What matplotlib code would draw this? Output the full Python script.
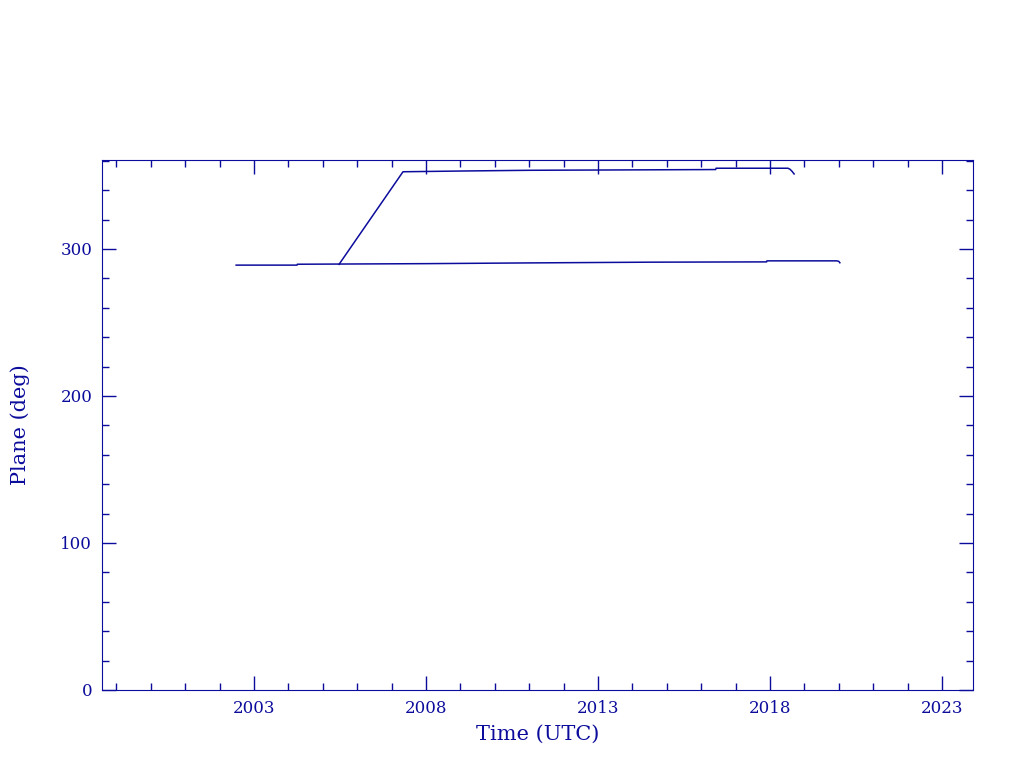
"""
Orbital plane vs time.
"""
import matplotlib
matplotlib.use('Agg')
import matplotlib.pyplot as plt
from matplotlib.ticker import MultipleLocator

# lower track (years, deg)
low_t = [2002.48, 2004.25, 2004.26, 2008.0, 2011.0, 2014.5, 2017.90, 2017.91, 2019.95, 2020.0, 2020.03]
low_p = [289.0, 289.0, 289.6, 290.0, 290.5, 291.0, 291.2, 291.9, 291.9, 291.5, 290.6]

# upper track
up_t = [2005.47, 2007.33, 2009.0, 2011.0, 2016.42, 2016.43, 2018.52, 2018.58, 2018.64, 2018.70]
up_p = [289.5, 352.5, 353.0, 353.5, 354.0, 354.9, 354.9, 354.2, 352.8, 351.0]

col = '#0c0c9c'
plt.rcParams['font.family'] = ['DejaVu Serif']

fig = plt.figure(figsize=(10.24, 7.68), dpi=100)
ax = fig.add_axes([102/1024, 1-690/768, 871/1024, 530/768])

ax.plot(low_t, low_p, color=col, lw=1.1)
ax.plot(up_t, up_p, color=col, lw=1.1)

ax.set_xlim(1998.58, 2023.9)
ax.set_ylim(0, 360.5)
ax.set_xticks([2003, 2008, 2013, 2018, 2023])
ax.xaxis.set_minor_locator(MultipleLocator(1))
ax.yaxis.set_major_locator(MultipleLocator(100))
ax.yaxis.set_minor_locator(MultipleLocator(20))

ax.tick_params(which='both', direction='in', top=True, right=True,
               colors=col, labelsize=12, pad=7, width=1)
ax.tick_params(which='major', length=10)
ax.tick_params(which='minor', length=5)
for s in ax.spines.values():
    s.set_color(col)

ax.set_xlabel('Time (UTC)', color=col, fontsize=15, labelpad=6)
ax.set_ylabel('Plane (deg)', color=col, fontsize=15, labelpad=22)

fig.savefig('out.png', dpi=100)
